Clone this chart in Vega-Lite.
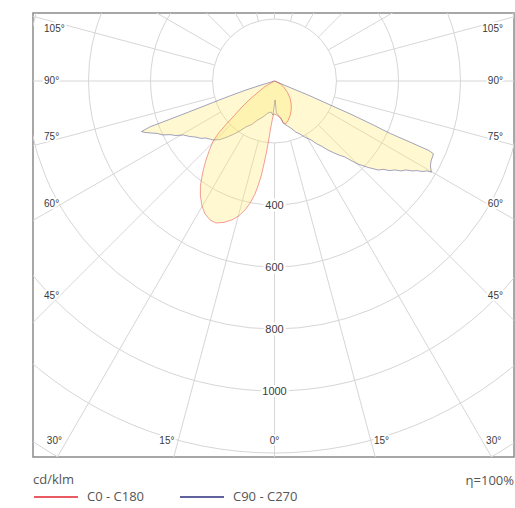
{
  "$schema": "https://vega.github.io/schema/vega-lite/v6.json",
  "width": 481,
  "height": 444,
  "autosize": {"type": "none"},
  "padding": {"left": 33, "top": 13, "right": 1, "bottom": 51},
  "background": "white",
  "config": {
    "view": {"stroke": "#8a8a8a", "strokeWidth": 1.5},
    "axis": {"disable": true},
    "font": "Open Sans"
  },
  "datasets": {
    "circles": [
      {"x": 0, "y": 0, "r": 200}, {"x": 0, "y": 0, "r": 400}, {"x": 0, "y": 0, "r": 600},
      {"x": 0, "y": 0, "r": 800}, {"x": 0, "y": 0, "r": 1000}, {"x": 0, "y": 0, "r": 1200},
      {"x": 0, "y": 0, "r": 1400}, {"x": 0, "y": 0, "r": 1600}
    ],
    "radials": [
      {"x": 0, "y": -200, "x2": 0, "y2": -3000},
      {"x": 51.8, "y": -193.2, "x2": 776.4, "y2": -2897.7},
      {"x": 100, "y": -173.2, "x2": 1500, "y2": -2598},
      {"x": 141.4, "y": -141.4, "x2": 2121.3, "y2": -2121.3},
      {"x": 173.2, "y": -100, "x2": 2598, "y2": -1500},
      {"x": 193.2, "y": -51.8, "x2": 2897.7, "y2": -776.4},
      {"x": 200, "y": 0, "x2": 3000, "y2": 0},
      {"x": 193.2, "y": 51.8, "x2": 2897.7, "y2": 776.4},
      {"x": 173.2, "y": 100, "x2": 2598, "y2": 1500},
      {"x": 141.4, "y": 141.4, "x2": 2121.3, "y2": 2121.3},
      {"x": 100, "y": 173.2, "x2": 1500, "y2": 2598},
      {"x": 51.8, "y": 193.2, "x2": 776.4, "y2": 2897.7},
      {"x": 0, "y": 200, "x2": 0, "y2": 3000},
      {"x": -51.8, "y": -193.2, "x2": -776.4, "y2": -2897.7},
      {"x": -100, "y": -173.2, "x2": -1500, "y2": -2598},
      {"x": -141.4, "y": -141.4, "x2": -2121.3, "y2": -2121.3},
      {"x": -173.2, "y": -100, "x2": -2598, "y2": -1500},
      {"x": -193.2, "y": -51.8, "x2": -2897.7, "y2": -776.4},
      {"x": -200, "y": 0, "x2": -3000, "y2": 0},
      {"x": -193.2, "y": 51.8, "x2": -2897.7, "y2": 776.4},
      {"x": -173.2, "y": 100, "x2": -2598, "y2": 1500},
      {"x": -141.4, "y": 141.4, "x2": -2121.3, "y2": 2121.3},
      {"x": -100, "y": 173.2, "x2": -1500, "y2": 2598},
      {"x": -51.8, "y": 193.2, "x2": -776.4, "y2": 2897.7}
    ],
    "curves": [
      {"series": "C90 - C270", "i": 1, "x": 0, "y": 0},
      {"series": "C90 - C270", "i": 2, "x": -37, "y": -11},
      {"series": "C90 - C270", "i": 3, "x": -92, "y": -29},
      {"series": "C90 - C270", "i": 4, "x": -144, "y": -48},
      {"series": "C90 - C270", "i": 5, "x": -198, "y": -69},
      {"series": "C90 - C270", "i": 6, "x": -251, "y": -90},
      {"series": "C90 - C270", "i": 7, "x": -305, "y": -111},
      {"series": "C90 - C270", "i": 8, "x": -360, "y": -132},
      {"series": "C90 - C270", "i": 9, "x": -402, "y": -148},
      {"series": "C90 - C270", "i": 10, "x": -429, "y": -163},
      {"series": "C90 - C270", "i": 11, "x": -418, "y": -166},
      {"series": "C90 - C270", "i": 12, "x": -395, "y": -168},
      {"series": "C90 - C270", "i": 13, "x": -379, "y": -169},
      {"series": "C90 - C270", "i": 14, "x": -360, "y": -174},
      {"series": "C90 - C270", "i": 15, "x": -337, "y": -173},
      {"series": "C90 - C270", "i": 16, "x": -318, "y": -176},
      {"series": "C90 - C270", "i": 17, "x": -295, "y": -174},
      {"series": "C90 - C270", "i": 18, "x": -273, "y": -179},
      {"series": "C90 - C270", "i": 19, "x": -253, "y": -181},
      {"series": "C90 - C270", "i": 20, "x": -237, "y": -185},
      {"series": "C90 - C270", "i": 21, "x": -221, "y": -184},
      {"series": "C90 - C270", "i": 22, "x": -198, "y": -190},
      {"series": "C90 - C270", "i": 23, "x": -176, "y": -189},
      {"series": "C90 - C270", "i": 24, "x": -156, "y": -182},
      {"series": "C90 - C270", "i": 25, "x": -137, "y": -174},
      {"series": "C90 - C270", "i": 26, "x": -115, "y": -163},
      {"series": "C90 - C270", "i": 27, "x": -92, "y": -148},
      {"series": "C90 - C270", "i": 28, "x": -73, "y": -140},
      {"series": "C90 - C270", "i": 29, "x": -56, "y": -127},
      {"series": "C90 - C270", "i": 30, "x": -37, "y": -116},
      {"series": "C90 - C270", "i": 31, "x": -21, "y": -103},
      {"series": "C90 - C270", "i": 32, "x": -11, "y": -100},
      {"series": "C90 - C270", "i": 33, "x": -5, "y": -110},
      {"series": "C90 - C270", "i": 34, "x": 2, "y": -61},
      {"series": "C90 - C270", "i": 35, "x": 6, "y": -103},
      {"series": "C90 - C270", "i": 36, "x": 15, "y": -113},
      {"series": "C90 - C270", "i": 37, "x": 21, "y": -119},
      {"series": "C90 - C270", "i": 38, "x": 27, "y": -135},
      {"series": "C90 - C270", "i": 39, "x": 37, "y": -142},
      {"series": "C90 - C270", "i": 40, "x": 53, "y": -152},
      {"series": "C90 - C270", "i": 41, "x": 69, "y": -165},
      {"series": "C90 - C270", "i": 42, "x": 82, "y": -171},
      {"series": "C90 - C270", "i": 43, "x": 98, "y": -181},
      {"series": "C90 - C270", "i": 44, "x": 118, "y": -190},
      {"series": "C90 - C270", "i": 45, "x": 137, "y": -203},
      {"series": "C90 - C270", "i": 46, "x": 153, "y": -211},
      {"series": "C90 - C270", "i": 47, "x": 173, "y": -223},
      {"series": "C90 - C270", "i": 48, "x": 192, "y": -232},
      {"series": "C90 - C270", "i": 49, "x": 211, "y": -240},
      {"series": "C90 - C270", "i": 50, "x": 227, "y": -245},
      {"series": "C90 - C270", "i": 51, "x": 250, "y": -258},
      {"series": "C90 - C270", "i": 52, "x": 269, "y": -268},
      {"series": "C90 - C270", "i": 53, "x": 285, "y": -273},
      {"series": "C90 - C270", "i": 54, "x": 302, "y": -279},
      {"series": "C90 - C270", "i": 55, "x": 315, "y": -282},
      {"series": "C90 - C270", "i": 56, "x": 334, "y": -287},
      {"series": "C90 - C270", "i": 57, "x": 353, "y": -285},
      {"series": "C90 - C270", "i": 58, "x": 369, "y": -289},
      {"series": "C90 - C270", "i": 59, "x": 389, "y": -287},
      {"series": "C90 - C270", "i": 60, "x": 408, "y": -290},
      {"series": "C90 - C270", "i": 61, "x": 424, "y": -287},
      {"series": "C90 - C270", "i": 62, "x": 444, "y": -290},
      {"series": "C90 - C270", "i": 63, "x": 460, "y": -289},
      {"series": "C90 - C270", "i": 64, "x": 476, "y": -292},
      {"series": "C90 - C270", "i": 65, "x": 492, "y": -290},
      {"series": "C90 - C270", "i": 66, "x": 506, "y": -294},
      {"series": "C90 - C270", "i": 67, "x": 503, "y": -274},
      {"series": "C90 - C270", "i": 68, "x": 505, "y": -258},
      {"series": "C90 - C270", "i": 69, "x": 513, "y": -235},
      {"series": "C90 - C270", "i": 70, "x": 498, "y": -224},
      {"series": "C90 - C270", "i": 71, "x": 437, "y": -197},
      {"series": "C90 - C270", "i": 72, "x": 373, "y": -169},
      {"series": "C90 - C270", "i": 73, "x": 315, "y": -140},
      {"series": "C90 - C270", "i": 74, "x": 244, "y": -106},
      {"series": "C90 - C270", "i": 75, "x": 179, "y": -77},
      {"series": "C90 - C270", "i": 76, "x": 115, "y": -48},
      {"series": "C90 - C270", "i": 77, "x": 50, "y": -21},
      {"series": "C90 - C270", "i": 78, "x": 0, "y": 0},
      {"series": "C0 - C180", "i": 1, "x": 0, "y": 0},
      {"series": "C0 - C180", "i": 2, "x": 18, "y": -8},
      {"series": "C0 - C180", "i": 3, "x": 31, "y": -21},
      {"series": "C0 - C180", "i": 4, "x": 42, "y": -37},
      {"series": "C0 - C180", "i": 5, "x": 50, "y": -55},
      {"series": "C0 - C180", "i": 6, "x": 54, "y": -74},
      {"series": "C0 - C180", "i": 7, "x": 54, "y": -94},
      {"series": "C0 - C180", "i": 8, "x": 50, "y": -113},
      {"series": "C0 - C180", "i": 9, "x": 44, "y": -127},
      {"series": "C0 - C180", "i": 10, "x": 35, "y": -139},
      {"series": "C0 - C180", "i": 11, "x": 27, "y": -131},
      {"series": "C0 - C180", "i": 12, "x": 18, "y": -119},
      {"series": "C0 - C180", "i": 13, "x": 8, "y": -110},
      {"series": "C0 - C180", "i": 14, "x": -2, "y": -106},
      {"series": "C0 - C180", "i": 15, "x": -6, "y": -119},
      {"series": "C0 - C180", "i": 16, "x": -11, "y": -145},
      {"series": "C0 - C180", "i": 17, "x": -16, "y": -174},
      {"series": "C0 - C180", "i": 18, "x": -21, "y": -203},
      {"series": "C0 - C180", "i": 19, "x": -27, "y": -235},
      {"series": "C0 - C180", "i": 20, "x": -34, "y": -268},
      {"series": "C0 - C180", "i": 21, "x": -42, "y": -303},
      {"series": "C0 - C180", "i": 22, "x": -52, "y": -335},
      {"series": "C0 - C180", "i": 23, "x": -63, "y": -365},
      {"series": "C0 - C180", "i": 24, "x": -79, "y": -394},
      {"series": "C0 - C180", "i": 25, "x": -95, "y": -416},
      {"series": "C0 - C180", "i": 26, "x": -115, "y": -435},
      {"series": "C0 - C180", "i": 27, "x": -137, "y": -448},
      {"series": "C0 - C180", "i": 28, "x": -163, "y": -456},
      {"series": "C0 - C180", "i": 29, "x": -189, "y": -458},
      {"series": "C0 - C180", "i": 30, "x": -208, "y": -448},
      {"series": "C0 - C180", "i": 31, "x": -224, "y": -429},
      {"series": "C0 - C180", "i": 32, "x": -234, "y": -403},
      {"series": "C0 - C180", "i": 33, "x": -239, "y": -371},
      {"series": "C0 - C180", "i": 34, "x": -239, "y": -339},
      {"series": "C0 - C180", "i": 35, "x": -235, "y": -313},
      {"series": "C0 - C180", "i": 36, "x": -229, "y": -284},
      {"series": "C0 - C180", "i": 37, "x": -221, "y": -255},
      {"series": "C0 - C180", "i": 38, "x": -210, "y": -223},
      {"series": "C0 - C180", "i": 39, "x": -198, "y": -194},
      {"series": "C0 - C180", "i": 40, "x": -179, "y": -166},
      {"series": "C0 - C180", "i": 41, "x": -156, "y": -140},
      {"series": "C0 - C180", "i": 42, "x": -134, "y": -116},
      {"series": "C0 - C180", "i": 43, "x": -108, "y": -87},
      {"series": "C0 - C180", "i": 44, "x": -82, "y": -61},
      {"series": "C0 - C180", "i": 45, "x": -56, "y": -39},
      {"series": "C0 - C180", "i": 46, "x": -31, "y": -18},
      {"series": "C0 - C180", "i": 47, "x": 0, "y": 0}
    ],
    "angleL": [
      {"x": -743.5, "y": 167.7, "t": "105°"},
      {"x": -743.5, "y": 0, "t": "90°"},
      {"x": -743.5, "y": -180.6, "t": "75°"},
      {"x": -743.5, "y": -396.8, "t": "60°"},
      {"x": -743.5, "y": -693.5, "t": "45°"}
    ],
    "angleR": [
      {"x": 737.1, "y": 167.7, "t": "105°"},
      {"x": 737.1, "y": 0, "t": "90°"},
      {"x": 737.1, "y": -180.6, "t": "75°"},
      {"x": 737.1, "y": -396.8, "t": "60°"},
      {"x": 737.1, "y": -693.5, "t": "45°"}
    ],
    "angleB": [
      {"x": -710, "y": -1161.3, "t": "30°"},
      {"x": -347, "y": -1161.3, "t": "15°"},
      {"x": 0, "y": -1161.3, "t": "0°"},
      {"x": 345, "y": -1161.3, "t": "15°"},
      {"x": 707, "y": -1161.3, "t": "30°"}
    ],
    "radLabels": [
      {"x": 0, "y": -403, "t": "400"},
      {"x": 0, "y": -603, "t": "600"},
      {"x": 0, "y": -803, "t": "800"},
      {"x": 0, "y": -1003, "t": "1000"}
    ],
    "note": [
      {"x": 772.6, "y": -1290, "t": "η=100%"}
    ]
  },
  "encoding": {
    "x": {"field": "x", "type": "quantitative", "axis": null, "scale": {"domain": [-779, 772.6], "nice": false, "zero": false}},
    "y": {"field": "y", "type": "quantitative", "axis": null, "scale": {"domain": [-1212.9, 219.4], "nice": false, "zero": false}}
  },
  "layer": [
    {
      "data": {"name": "circles"},
      "mark": {"type": "arc", "theta": 0, "theta2": 6.2832, "filled": false, "stroke": "#d6d6d6", "strokeWidth": 1, "clip": true},
      "encoding": {
        "radius": {"field": "r", "type": "quantitative", "stack": null, "scale": {"type": "linear", "domain": [0, 1000], "range": [0, 310]}}
      }
    },
    {
      "data": {"name": "radials"},
      "mark": {"type": "rule", "stroke": "#d6d6d6", "strokeWidth": 1, "clip": true},
      "encoding": {"x2": {"field": "x2"}, "y2": {"field": "y2"}}
    },
    {
      "data": {"name": "curves"},
      "transform": [{"filter": "datum.series === 'C90 - C270'"}],
      "mark": {"type": "line", "fill": "#ffe866", "fillOpacity": 0.3, "stroke": "#2b2d7c", "strokeWidth": 0.8, "strokeOpacity": 0.55, "clip": true},
      "encoding": {"order": {"field": "i", "type": "quantitative"}}
    },
    {
      "data": {"name": "curves"},
      "transform": [{"filter": "datum.series === 'C0 - C180'"}],
      "mark": {"type": "line", "fill": "#ffe866", "fillOpacity": 0.3, "stroke": "#e3232c", "strokeWidth": 0.8, "strokeOpacity": 0.55, "clip": true},
      "encoding": {"order": {"field": "i", "type": "quantitative"}}
    },
    {
      "data": {"name": "curves"},
      "transform": [{"filter": "datum.i < 0"}],
      "mark": {"type": "line", "strokeWidth": 1.3},
      "encoding": {
        "stroke": {
          "field": "series",
          "type": "nominal",
          "scale": {"domain": ["C0 - C180", "C90 - C270"], "range": ["#e3232c", "#2b2d7c"]},
          "legend": {
            "title": "cd/klm",
            "orient": "bottom",
            "direction": "horizontal",
            "symbolType": "stroke",
            "symbolSize": 1936,
            "symbolStrokeWidth": 1.3,
            "labelFontSize": 13,
            "labelColor": "#555555",
            "labelFont": "Open Sans",
            "titleFontSize": 13,
            "titleFontWeight": "normal",
            "titleColor": "#555555",
            "titleFont": "Open Sans",
            "titlePadding": -13,
            "offset": 17,
            "labelOffset": 8,
            "columnPadding": 32,
            "padding": 0,
            "titleAnchor": "start"
          }
        },
        "order": {"field": "i", "type": "quantitative"}
      }
    },
    {
      "data": {"name": "angleL"},
      "mark": {"type": "text", "align": "left", "baseline": "middle", "fontSize": 10, "font": "Liberation Sans", "fill": "white", "stroke": "white", "strokeWidth": 4, "strokeJoin": "round"},
      "encoding": {"text": {"field": "t"}}
    },
    {
      "data": {"name": "angleL"},
      "mark": {"type": "text", "align": "left", "baseline": "middle", "fontSize": 10, "font": "Liberation Sans", "fill": "#3a3a3a"},
      "encoding": {"text": {"field": "t"}}
    },
    {
      "data": {"name": "angleR"},
      "mark": {"type": "text", "align": "right", "baseline": "middle", "fontSize": 10, "font": "Liberation Sans", "fill": "white", "stroke": "white", "strokeWidth": 4, "strokeJoin": "round"},
      "encoding": {"text": {"field": "t"}}
    },
    {
      "data": {"name": "angleR"},
      "mark": {"type": "text", "align": "right", "baseline": "middle", "fontSize": 10, "font": "Liberation Sans", "fill": "#3a3a3a"},
      "encoding": {"text": {"field": "t"}}
    },
    {
      "data": {"name": "angleB"},
      "mark": {"type": "text", "align": "center", "baseline": "middle", "fontSize": 10, "font": "Liberation Sans", "fill": "white", "stroke": "white", "strokeWidth": 4, "strokeJoin": "round"},
      "encoding": {"text": {"field": "t"}}
    },
    {
      "data": {"name": "angleB"},
      "mark": {"type": "text", "align": "center", "baseline": "middle", "fontSize": 10, "font": "Liberation Sans", "fill": "#3a3a3a"},
      "encoding": {"text": {"field": "t"}}
    },
    {
      "data": {"name": "radLabels"},
      "mark": {"type": "text", "align": "center", "baseline": "middle", "fontSize": 11, "font": "Liberation Sans", "fill": "white", "stroke": "white", "strokeWidth": 5, "strokeJoin": "round"},
      "encoding": {"text": {"field": "t"}}
    },
    {
      "data": {"name": "radLabels"},
      "mark": {"type": "text", "align": "center", "baseline": "middle", "fontSize": 11, "font": "Liberation Sans", "fill": "#3a3a3a"},
      "encoding": {"text": {"field": "t"}}
    },
    {
      "data": {"name": "note"},
      "mark": {"type": "text", "align": "right", "baseline": "middle", "fontSize": 13, "font": "Open Sans", "fill": "#555555"},
      "encoding": {"text": {"field": "t"}}
    }
  ]
}
